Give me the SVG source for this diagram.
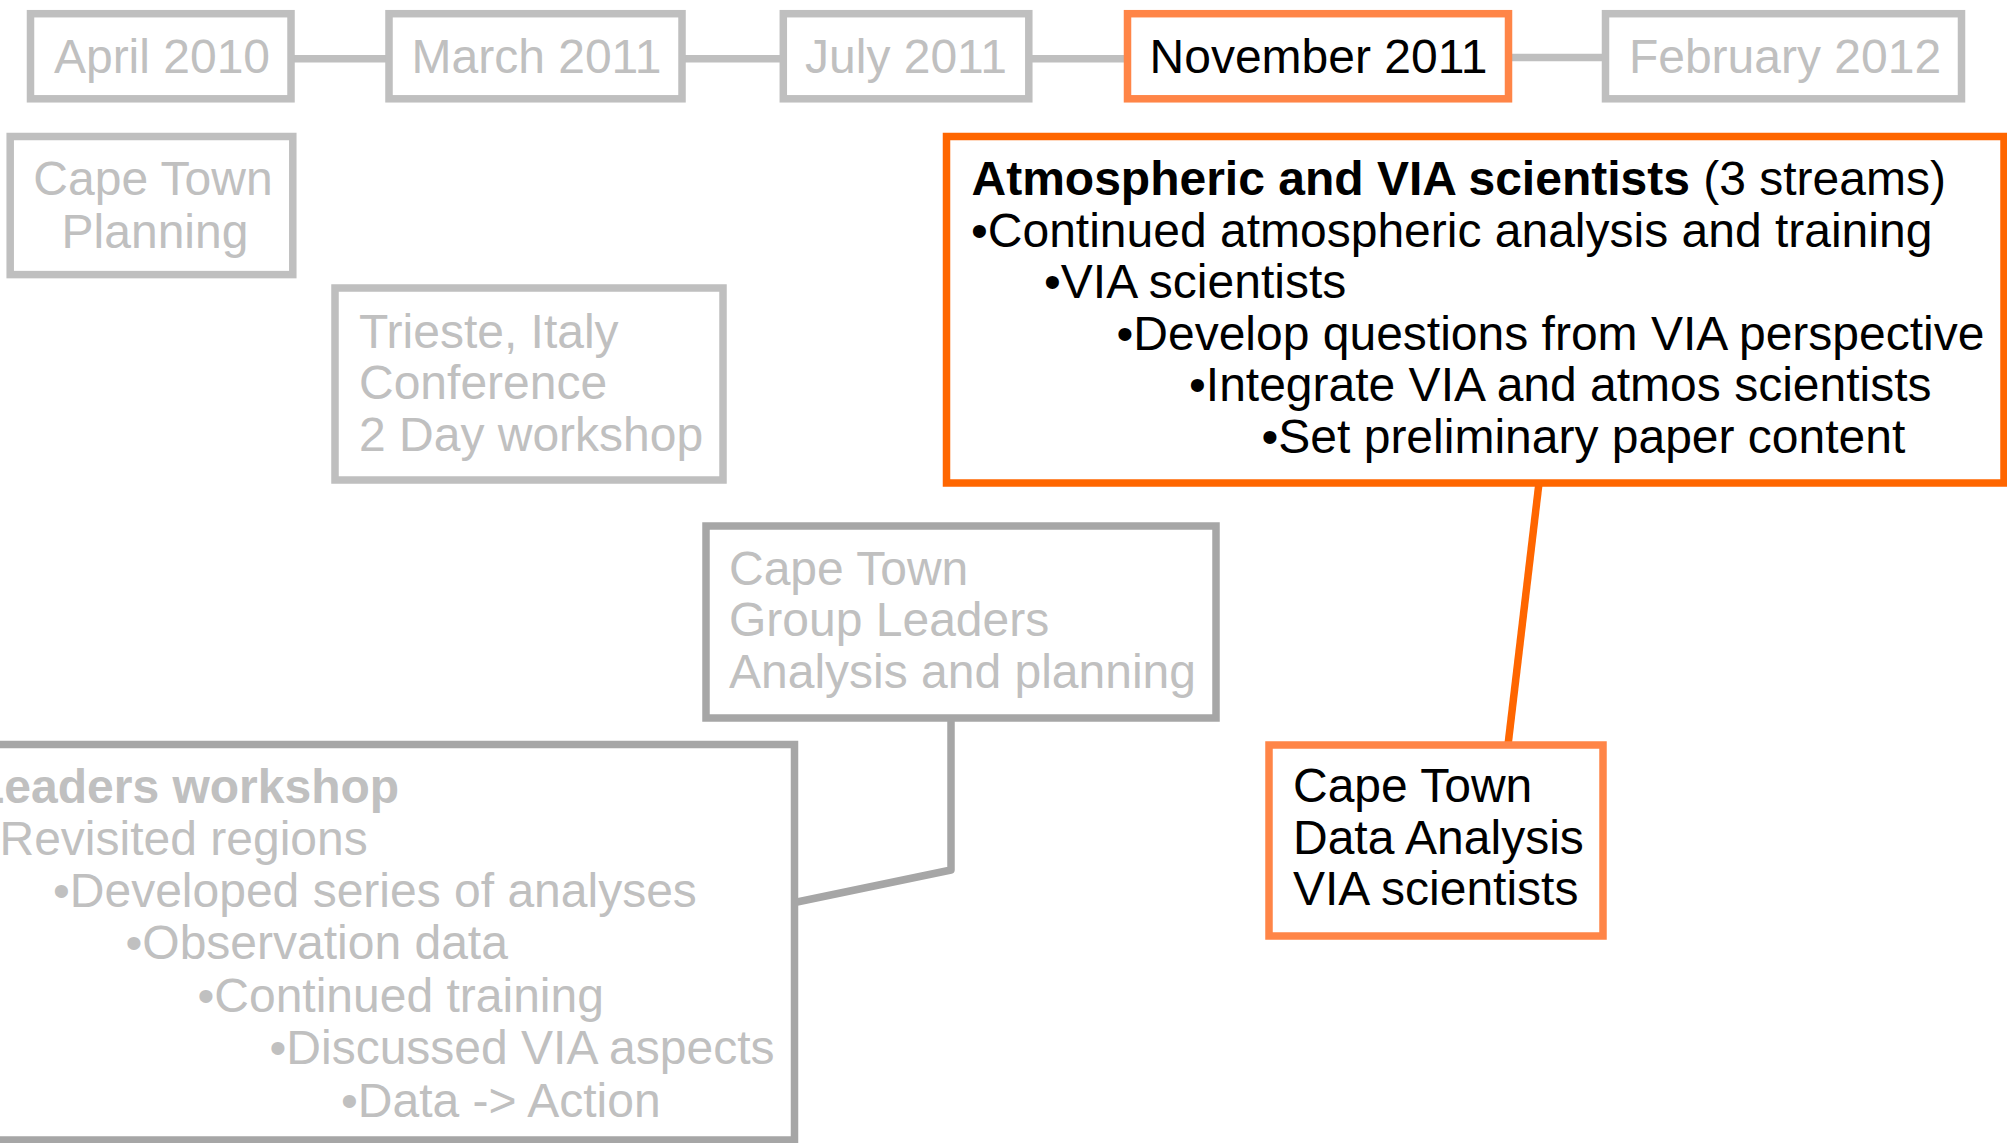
<svg xmlns="http://www.w3.org/2000/svg" width="2007" height="1143" viewBox="0 0 2007 1143">
<style>
  text { font-family: "Liberation Sans", Arial, sans-serif; font-size: 48px; }
  .g { fill: #C0C0C0; }
  .k { fill: #000000; }
  .c { text-anchor: middle; }
  .b { font-weight: bold; }
  .box-l { fill: #FFFFFF; stroke: #BFBFBF; stroke-width: 7.5; }
  .box-d { fill: #FFFFFF; stroke: #A6A6A6; stroke-width: 7.5; }
  .box-o { fill: #FFFFFF; stroke: #FF6600; stroke-width: 7.5; }
  .box-p { fill: #FFFFFF; stroke: #FF8547; stroke-width: 7.5; }
  .ln-l { fill: none; stroke: #BFBFBF; stroke-width: 7.5; }
  .ln-d { fill: none; stroke: #A6A6A6; stroke-width: 7.5; stroke-linejoin: round; }
  .ln-o { fill: none; stroke: #FF6600; stroke-width: 7.5; }
</style>
<rect width="2007" height="1143" fill="#FFFFFF"/>
<g id="connectors">
  <line class="ln-l" x1="294" y1="58.8" x2="386" y2="58.8"/>
  <line class="ln-l" x1="685" y1="58.8" x2="780" y2="58.8"/>
  <line class="ln-l" x1="1032" y1="58.8" x2="1124" y2="58.8"/>
  <line class="ln-l" x1="1511" y1="57.5" x2="1603" y2="57.5"/>
  <polyline class="ln-d" points="951,718 951,870 797,902"/>
  <line class="ln-o" x1="1539" y1="483" x2="1508" y2="745"/>
</g>
<g id="april-2010">
  <rect class="box-l" x="30.5" y="13.7" width="260.5" height="85.1"/>
  <text class="g c" x="162" y="72.7">April 2010</text>
</g>
<g id="march-2011">
  <rect class="box-l" x="389" y="13.7" width="293" height="85.1"/>
  <text class="g c" x="536.5" y="72.7">March 2011</text>
</g>
<g id="july-2011">
  <rect class="box-l" x="783.3" y="13.7" width="245.5" height="85.1"/>
  <text class="g c" x="906" y="72.7">July 2011</text>
</g>
<g id="november-2011">
  <rect class="box-p" x="1127.5" y="13.7" width="381" height="85.1"/>
  <text class="k c" x="1318.5" y="72.7">November 2011</text>
</g>
<g id="february-2012">
  <rect class="box-l" x="1605.5" y="13.7" width="356" height="85.1"/>
  <text class="g c" x="1785" y="72.7">February 2012</text>
</g>
<g id="cape-town-planning">
  <rect class="box-l" x="10.2" y="136.5" width="282.6" height="138.1"/>
  <text class="g c" x="153" y="195">Cape Town</text>
  <text class="g c" x="155" y="248">Planning</text>
</g>
<g id="trieste">
  <rect class="box-l" x="335" y="288" width="388" height="192"/>
  <text class="g" x="359" y="347.5">Trieste, Italy</text>
  <text class="g" x="359" y="399">Conference</text>
  <text class="g" x="359" y="450.5">2 Day workshop</text>
</g>
<g id="group-leaders">
  <rect class="box-d" x="706" y="526" width="510" height="192"/>
  <text class="g" x="729" y="584.5">Cape Town</text>
  <text class="g" x="729" y="636">Group Leaders</text>
  <text class="g" x="729" y="687.5">Analysis and planning</text>
</g>
<g id="leaders-workshop">
  <rect class="box-d" x="-20" y="744.5" width="814.5" height="395.5"/>
  <text class="g b" x="-25" y="803">Leaders workshop</text>
  <text class="g" x="-0.5" y="854.5">Revisited regions</text>
  <text class="g" x="53" y="906.7">•Developed series of analyses</text>
  <text class="g" x="125.5" y="959.3">•Observation data</text>
  <text class="g" x="197.5" y="1011.8">•Continued training</text>
  <text class="g" x="269.5" y="1064.3">•Discussed VIA aspects</text>
  <text class="g" x="341" y="1116.7">•Data -&gt; Action</text>
</g>
<g id="atmospheric-via">
  <rect class="box-o" x="946.5" y="136.5" width="1057.5" height="346.5"/>
  <text class="k" x="971.5" y="195"><tspan class="b">Atmospheric and VIA scientists</tspan> (3 streams)</text>
  <text class="k" x="971" y="246.6">•Continued atmospheric analysis and training</text>
  <text class="k" x="1044" y="298.2">•VIA scientists</text>
  <text class="k" x="1116.5" y="349.8">•Develop questions from VIA perspective</text>
  <text class="k" x="1189" y="401.4">•Integrate VIA and atmos scientists</text>
  <text class="k" x="1261.5" y="453">•Set preliminary paper content</text>
</g>
<g id="data-analysis">
  <rect class="box-p" x="1269" y="745" width="334" height="191"/>
  <text class="k" x="1293" y="802">Cape Town</text>
  <text class="k" x="1293" y="853.5">Data Analysis</text>
  <text class="k" x="1293" y="905">VIA scientists</text>
</g>
</svg>
